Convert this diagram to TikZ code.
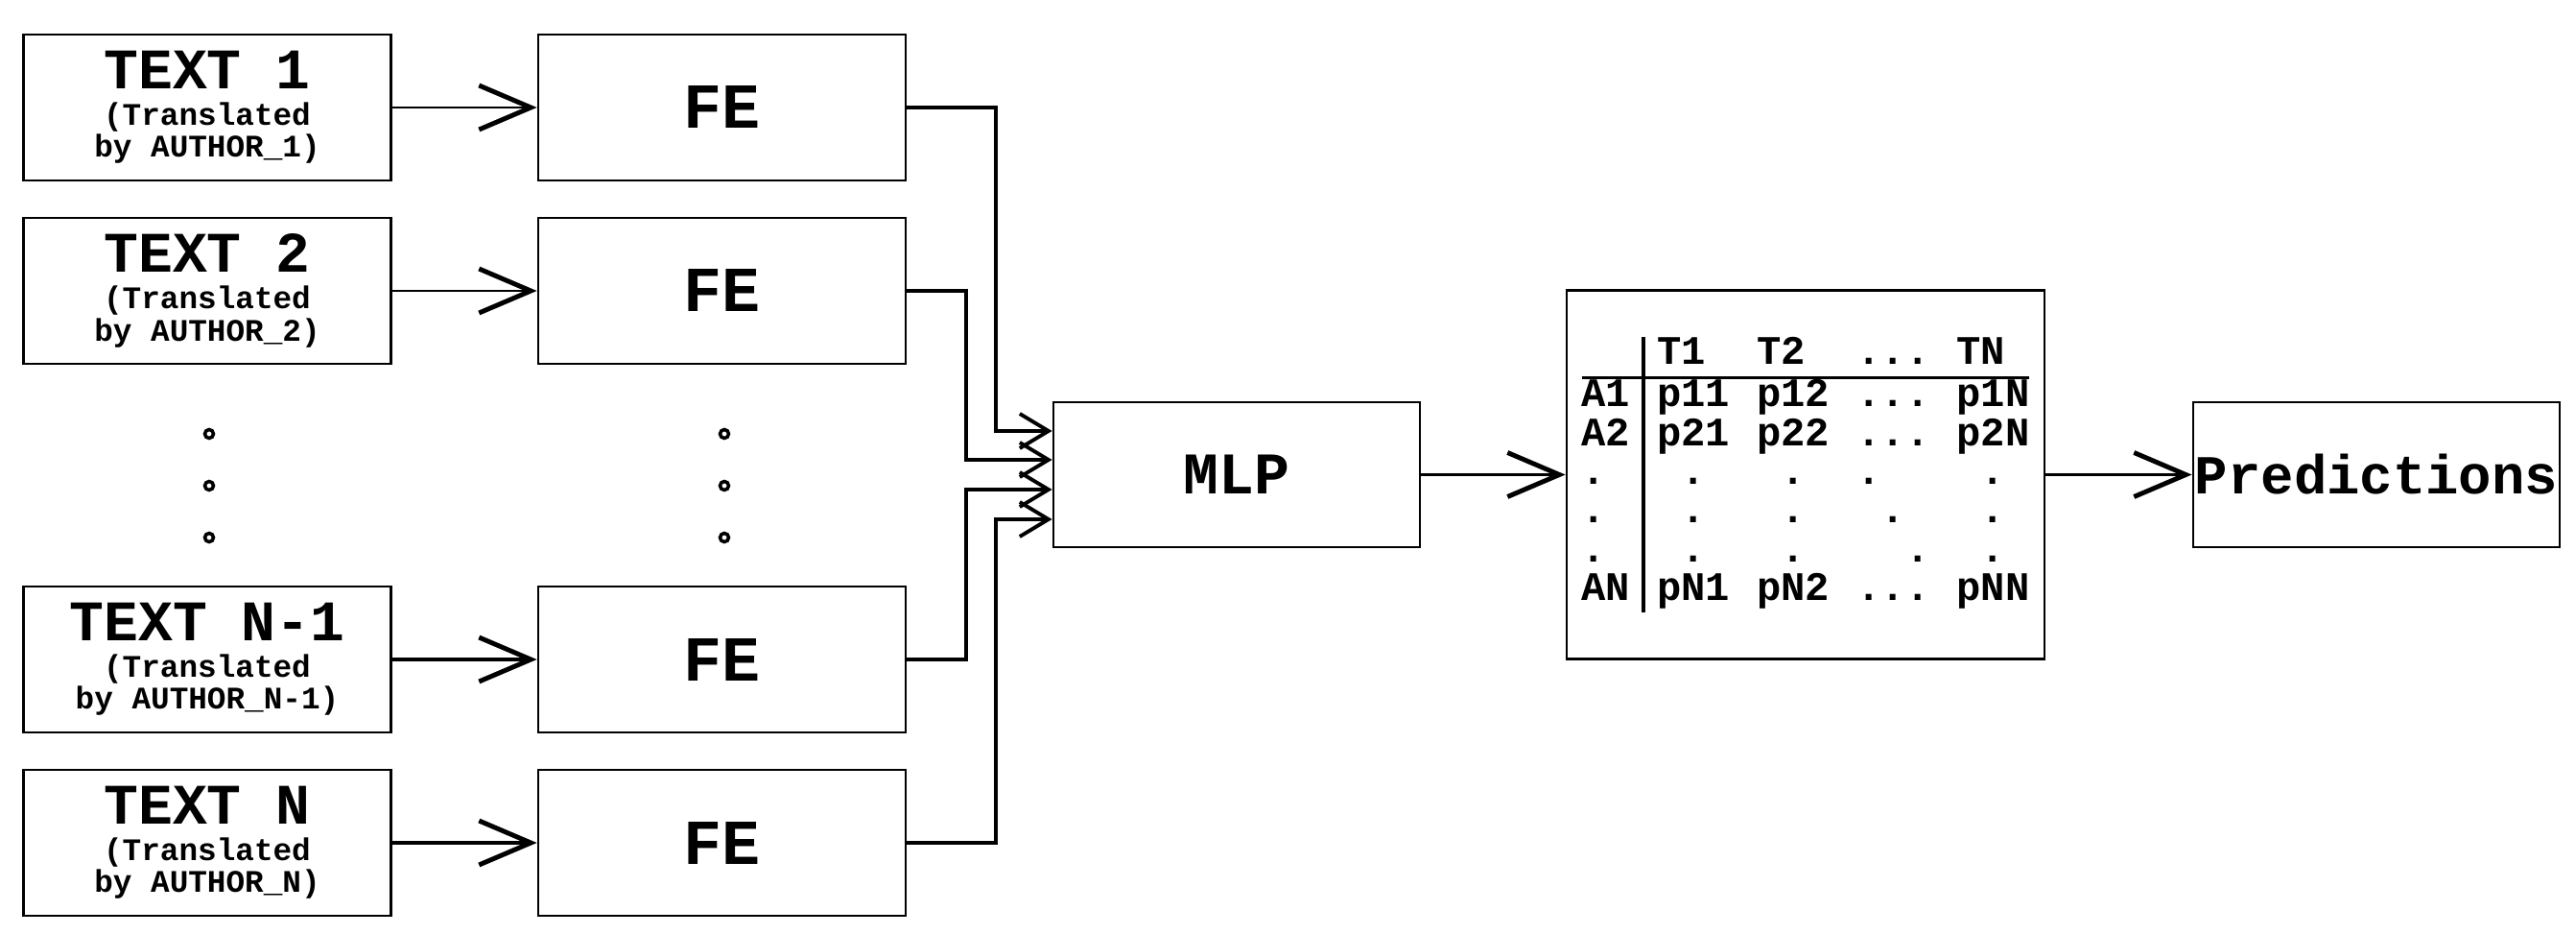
\documentclass[tikz,border=0pt]{standalone}
\usepackage{fontspec}
\setmonofont{Liberation Mono}
\usetikzlibrary{arrows.meta}

\tikzset{
	box/.style={draw, line width=0.8pt, minimum width=3.83cm, minimum height=1.52cm,
		inner sep=0pt, font=\ttfamily\bfseries},
	bigbarb/.style={-{Straight Barb[length=5.4mm,width=4.6mm,line width=1.4pt]}},
	smallbarb/.style={-{Straight Barb[length=3mm,width=3.6mm,line width=1.1pt]}},
}
\newcommand{\ph}{\hphantom{x}}

\begin{document}
\begin{tikzpicture}
\useasboundingbox (0,0) rectangle (26.85,9.72);

\foreach \i/\y/\n/\lw in {1/8.60/1/0.6pt, 2/6.69/2/0.6pt, 3/2.85/N-1/1.1pt, 4/0.94/N/1.1pt} {
	\node[box, align=center, font=\ttfamily\bfseries\fontsize{9.3}{9.5}\selectfont] (text\i) at (2.16,\y)
		{\fontsize{17}{17}\selectfont TEXT \n\\[1.3pt]\fontsize{9.3}{9.5}\selectfont (Translated\\by AUTHOR\_\n)};
	\node[box, font=\ttfamily\bfseries\fontsize{19}{19}\selectfont] (fe\i) at (7.525,\y) {FE};
	\draw[bigbarb, line width=\lw] (text\i) -- (fe\i);
}

% vertical dots between the rows
\foreach \x in {2.18,7.55}
	\foreach \y in {5.20,4.66,4.12}
		\draw[line width=1pt] (\x,\y) circle (0.045);

\node[box, minimum width=3.82cm, minimum height=1.51cm, font=\ttfamily\bfseries\fontsize{17.5}{17.5}\selectfont]
	(mlp) at (12.89,4.775) {MLP};

\node[box, minimum width=4.98cm, minimum height=3.84cm] (probs) at (18.82,4.775)
	{\fontsize{12}{11.5}\selectfont\setlength{\arrayrulewidth}{1.1pt}\setlength{\tabcolsep}{4pt}%
	\begin{tabular}{@{}l|llll@{}}
		   & T1  & T2  & ... & TN  \\ \hline
		A1 & p11 & p12 & ... & p1N \\
		A2 & p21 & p22 & ... & p2N \\
		.  & \ph. & \ph. & .   & \ph. \\
		.  & \ph. & \ph. & \ph. & \ph. \\
		.  & \ph. & \ph. & \ph\ph. & \ph. \\
		AN & pN1 & pN2 & ... & pNN \\
	\end{tabular}};

\node[box, minimum width=3.82cm, minimum height=1.51cm, font=\ttfamily\bfseries\fontsize{16.3}{16.3}\selectfont]
	(pred) at (24.77,4.775) {Predictions};

\foreach \i/\dx/\dy in {1/0.93/0.455, 2/0.62/0.155, 3/0.62/-0.155, 4/0.93/-0.465}
	\draw[smallbarb, line width=1.1pt] (fe\i.east) -- ++(\dx,0) |- ([yshift=\dy cm]mlp.west);

\draw[bigbarb, line width=0.6pt] (mlp) -- (probs);
\draw[bigbarb, line width=0.6pt] (probs) -- (pred);
\end{tikzpicture}
\end{document}
